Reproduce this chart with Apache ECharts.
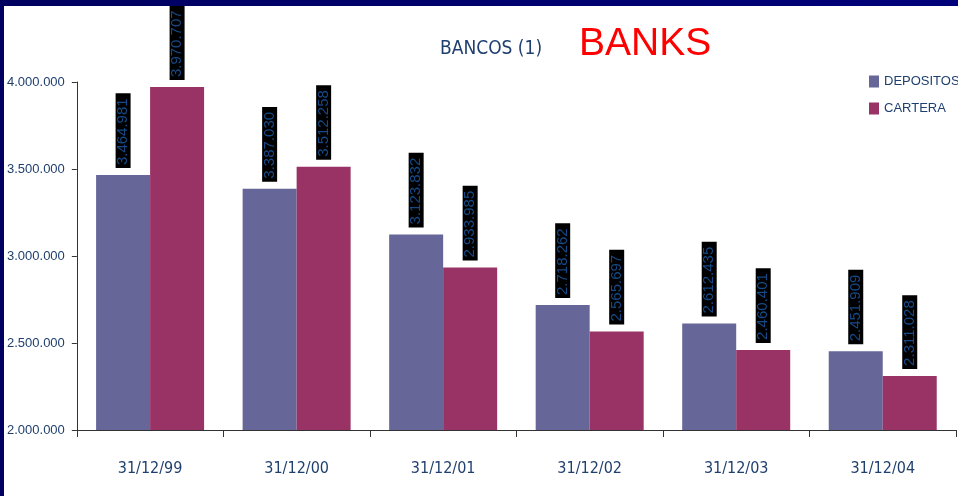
<!DOCTYPE html>
<html>
<head>
<meta charset="utf-8">
<script src="https://cdn.jsdelivr.net/npm/echarts@6/dist/echarts.min.js"></script>
<style>
html,body{margin:0;padding:0;width:958px;height:496px;overflow:hidden;background:linear-gradient(90deg,#000060,#00007a);}
#chart{position:absolute;left:4px;top:6px;width:954px;height:490px;background:#fff;}
</style>
</head>
<body>
<div id="chart"></div>
<script>
var categories = ['31/12/99','31/12/00','31/12/01','31/12/02','31/12/03','31/12/04'];
var depositos = [3464981, 3387030, 3123832, 2718262, 2612435, 2451909];
var cartera = [3970707, 3512258, 2933985, 2565697, 2460401, 2311028];
var yTicks = [2000000, 2500000, 3000000, 3500000, 4000000];

function fmt(v){ return String(v).replace(/\B(?=(\d{3})+(?!\d))/g, '.'); }

var chart = echarts.init(document.getElementById('chart'));
var labelCfg = {
  show: true,
  position: 'top',
  rotate: 90,
  align: 'left',
  verticalAlign: 'middle',
  distance: 7,
  formatter: function(p){ return fmt(p.value); },
  color: '#164a87',
  fontFamily: 'Liberation Sans, Arial, sans-serif',
  fontSize: 15,
  lineHeight: 13,
  backgroundColor: '#000',
  padding: [1, 5, 1, 3]
};
chart.setOption({
  animation: false,
  title: [
    { text: 'BANCOS (1)', left: 431, top: 29,
      textStyle: { fontFamily: 'DejaVu Sans Condensed, DejaVu Sans, sans-serif', fontWeight: 'normal', fontSize: 19, color: '#1f3f6f' } },
    { text: 'BANKS', left: 570, top: 14,
      textStyle: { fontFamily: 'Liberation Sans, Arial, sans-serif', fontWeight: 'normal', fontSize: 39, color: '#ff0000' } }
  ],
  legend: {
    orient: 'vertical', left: 860, top: 64, itemWidth: 10, itemHeight: 12, itemGap: 14,
    icon: 'rect',
    textStyle: { color: '#1f3f6f', fontSize: 13, fontFamily: 'Liberation Sans, Arial, sans-serif' },
    data: ['DEPOSITOS', 'CARTERA']
  },
  grid: { left: 72, right: 2, top: 76, bottom: 66, containLabel: false },
  xAxis: {
    type: 'category', data: categories,
    axisLine: { lineStyle: { color: '#333', width: 1 } },
    axisTick: { show: true, length: 7, lineStyle: { color: '#333' } },
    axisLabel: { margin: 31, color: '#1f3f6f', fontSize: 16, fontFamily: 'Liberation Sans Narrow, Arial Narrow, DejaVu Sans Condensed, sans-serif' }
  },
  yAxis: {
    type: 'value', min: yTicks[0], max: yTicks[yTicks.length - 1], interval: yTicks[1] - yTicks[0],
    axisLine: { show: true, lineStyle: { color: '#333', width: 1 } },
    axisTick: { show: true, length: 5, lineStyle: { color: '#333' } },
    splitLine: { show: false },
    axisLabel: { margin: 12, color: '#1f3f6f', fontSize: 13, fontFamily: 'Liberation Sans, Arial, sans-serif',
      formatter: function(v){ return fmt(v); } }
  },
  series: [
    { name: 'DEPOSITOS', type: 'bar', data: depositos, barWidth: 54, barGap: '0%',
      itemStyle: { color: '#666699' }, label: labelCfg },
    { name: 'CARTERA', type: 'bar', data: cartera, barWidth: 54, barGap: '0%',
      itemStyle: { color: '#993366' }, label: labelCfg }
  ]
});
</script>
</body>
</html>
